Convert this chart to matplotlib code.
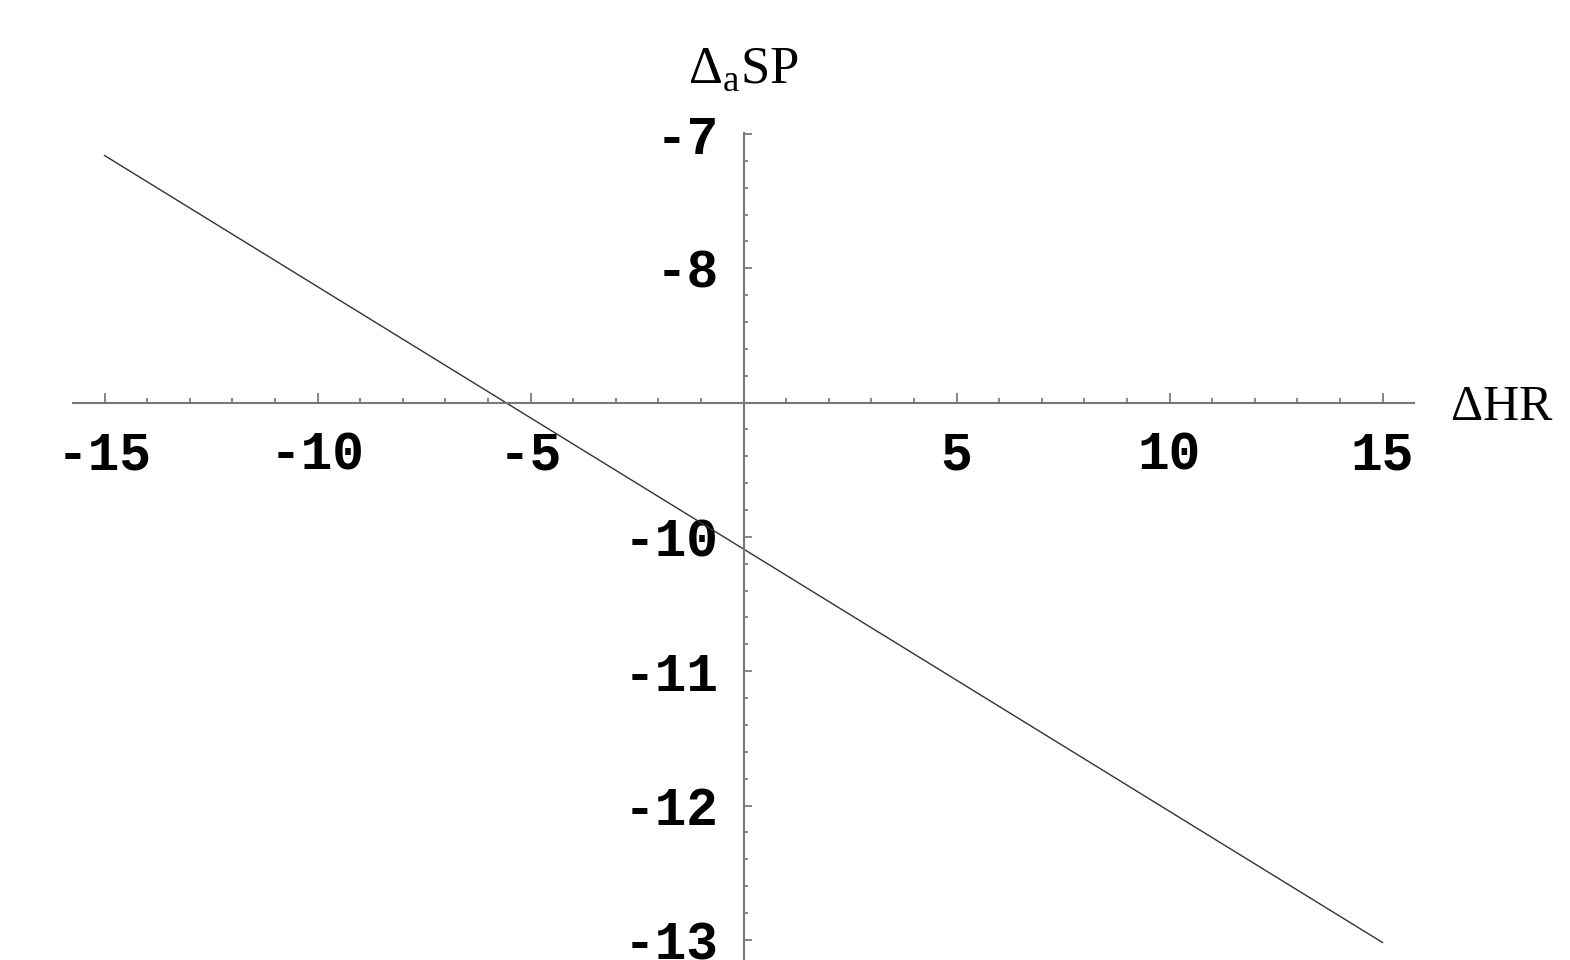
import numpy as np
import matplotlib.pyplot as plt
from matplotlib.ticker import FixedLocator

# end points of the straight line
dhr = [-15, 15]
dasp = [-7.16, -13.02]

xticks = [-15, -10, -5, 5, 10, 15]
xlabels = ['-15', '-10', '-5', '5', '10', '15']
yticks = [-7, -8, -10, -11, -12, -13]
ylabels = ['-7', '-8', '-10', '-11', '-12', '-13']

plt.rcParams['mathtext.fontset'] = 'custom'
plt.rcParams['mathtext.rm'] = 'Liberation Serif'

fig = plt.figure(figsize=(15.7, 9.6), dpi=100)
ax = fig.add_axes([0, 0, 1, 1])

ax.plot(dhr, dasp, color='#333333', lw=1.0)

# axes crossing at (0, -9)
ax.set_xlim(-743.5 / 42.6, (1570 - 743.5) / 42.6)
ax.set_ylim(-7 - 826 / 134.3, -7 + 134 / 134.3)

for s in ['top', 'right']:
    ax.spines[s].set_visible(False)
ax.spines['left'].set_position(('data', 0))
ax.spines['bottom'].set_position(('data', -9))
ax.spines['bottom'].set_bounds(-15.75, 15.75)
ax.spines['left'].set_bounds(-13.3, -6.99)
for s in ['left', 'bottom']:
    ax.spines[s].set_color('#777777')
    ax.spines[s].set_linewidth(1.5)

ax.set_xticks(xticks)
ax.set_xticklabels(xlabels)
ax.set_yticks(yticks)
ax.set_yticklabels(ylabels)
ax.xaxis.set_minor_locator(FixedLocator(np.arange(-15, 16, 1)))
ax.yaxis.set_minor_locator(FixedLocator(np.arange(-13.2, -6.9, 0.2)))

ax.tick_params(axis='x', which='major', direction='in', length=7, width=1.1,
               color='#666666', pad=20)
ax.tick_params(axis='x', which='minor', direction='in', length=3.5, width=1.1,
               color='#666666')
ax.tick_params(axis='y', which='major', direction='in', length=6, width=1.1,
               color='#666666', pad=18)
ax.tick_params(axis='y', which='minor', direction='in', length=3, width=1.1,
               color='#666666')
for lab in ax.get_xticklabels() + ax.get_yticklabels():
    lab.set_fontfamily('Liberation Mono')
    lab.set_fontweight('bold')
    lab.set_fontsize(38)

ax.text(0, -6.62, r'$\Delta_{\mathrm{a}}\mathrm{SP}$', ha='center', va='baseline',
        fontsize=38)
ax.text(16.58, -9.127, r'$\Delta\mathrm{HR}$', ha='left', va='baseline',
        fontsize=36)

fig.savefig('out.png', dpi=100)
